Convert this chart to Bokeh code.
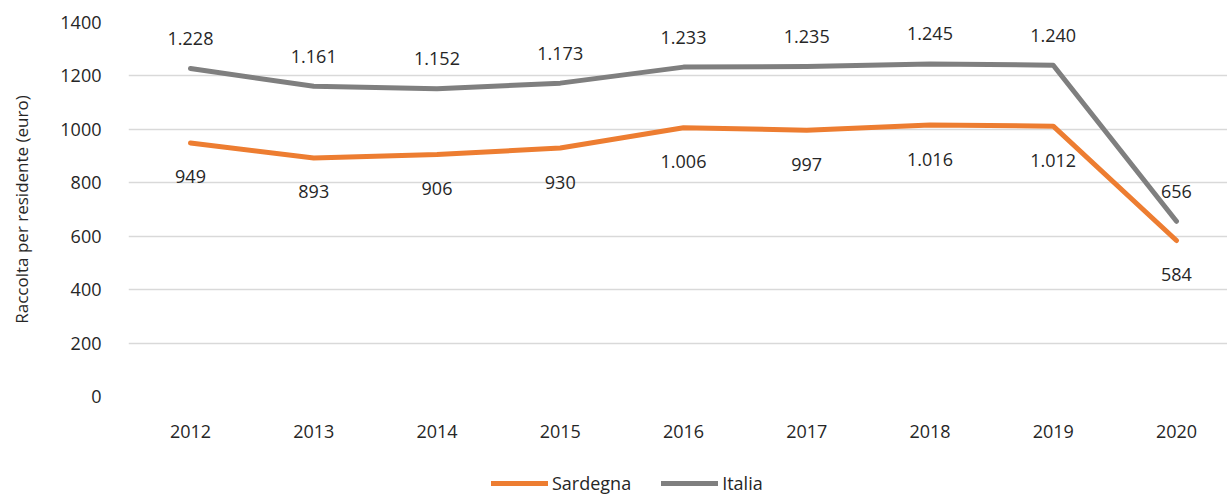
from bokeh.plotting import figure
from bokeh.layouts import column
from bokeh.models import ColumnDataSource, Legend, LegendItem, FixedTicker, LabelSet
from bokeh.core.properties import value
from bokeh.embed import file_html
from bokeh.resources import INLINE

years = [2012, 2013, 2014, 2015, 2016, 2017, 2018, 2019, 2020]
sardegna = [949, 893, 906, 930, 1006, 997, 1016, 1012, 584]
italia = [1228, 1161, 1152, 1173, 1233, 1235, 1245, 1240, 656]
y_ticks = [0, 200, 400, 600, 800, 1000, 1200, 1400]

def fmt(v):
    return f"{v:,}".replace(",", ".")

FONT = "Open Sans"
TXT = "#262626"
ORANGE = "#ED7D31"
GRAY = "#7F7F7F"

src = ColumnDataSource(dict(
    x=years, s=sardegna, i=italia,
    sl=[fmt(v) for v in sardegna], il=[fmt(v) for v in italia],
))

p = figure(width=1227, height=470, output_backend="svg", toolbar_location=None,
           x_range=(2011.497, 2020.414), y_range=(0, 1400),
           min_border_left=128, min_border_right=0, min_border_top=22, min_border_bottom=74,
           background_fill_color="white", border_fill_color="white")
p.outline_line_color = None

p.xgrid.grid_line_color = None
p.ygrid.grid_line_color = "#D9D9D9"
p.ygrid.grid_line_width = 1.5
p.ygrid.ticker = FixedTicker(ticks=y_ticks)

p.yaxis.ticker = FixedTicker(ticks=y_ticks)
p.xaxis.ticker = FixedTicker(ticks=years)
for ax in (p.xaxis, p.yaxis):
    ax.axis_line_color = None
    ax.major_tick_line_color = None
    ax.minor_tick_line_color = None
    ax.major_tick_out = 0
    ax.major_label_text_font = FONT
    ax.major_label_text_font_size = "18px"
    ax.major_label_text_color = TXT
p.xaxis.major_label_standoff = 28
p.yaxis.major_label_standoff = 27
p.yaxis.axis_label = "Raccolta per residente (euro)"
p.yaxis.axis_label_text_font = FONT
p.yaxis.axis_label_text_font_style = "normal"
p.yaxis.axis_label_text_font_size = "17px"
p.yaxis.axis_label_text_color = TXT
p.yaxis.axis_label_standoff = 24

line_kw = dict(line_width=5, line_cap="round", line_join="round")
p.line("x", "s", source=src, line_color=ORANGE, **line_kw)
p.line("x", "i", source=src, line_color=GRAY, **line_kw)

lab_i = LabelSet(x="x", y="i", text="il", source=src, text_align="center", text_baseline="middle",
                 y_offset=30, text_font=value(FONT), text_font_size=value("18px"), text_color=TXT)
lab_s = LabelSet(x="x", y="s", text="sl", source=src, text_align="center", text_baseline="middle",
                 y_offset=-34, text_font=value(FONT), text_font_size=value("18px"), text_color=TXT)
p.add_layout(lab_i)
p.add_layout(lab_s)

# legend strip below the chart (frame aligned with the main chart's frame)
p2 = figure(width=1227, height=25, output_backend="svg", toolbar_location=None,
            x_axis_type=None, y_axis_type=None, x_range=(0, 1), y_range=(0, 1),
            min_border=0, background_fill_color="white", border_fill_color="white")
p2.outline_line_color = None
p2.grid.visible = False
d_s = p2.line(x=[-2, -1], y=[-2, -2], line_color=ORANGE, **line_kw)
d_i = p2.line(x=[-2, -1], y=[-2, -2], line_color=GRAY, **line_kw)
legend = Legend(items=[LegendItem(label="Sardegna", renderers=[d_s]),
                       LegendItem(label="Italia", renderers=[d_i])],
                orientation="horizontal", location=(363, 0),
                label_text_font=FONT, label_text_font_size="18px", label_text_color=TXT,
                glyph_width=57, glyph_height=20, label_standoff=4, spacing=30,
                border_line_color=None, background_fill_alpha=0, padding=0, margin=0)
p2.add_layout(legend, "center")

layout = column(p, p2, spacing=0)
open("out.html", "w").write(file_html(layout, INLINE))
